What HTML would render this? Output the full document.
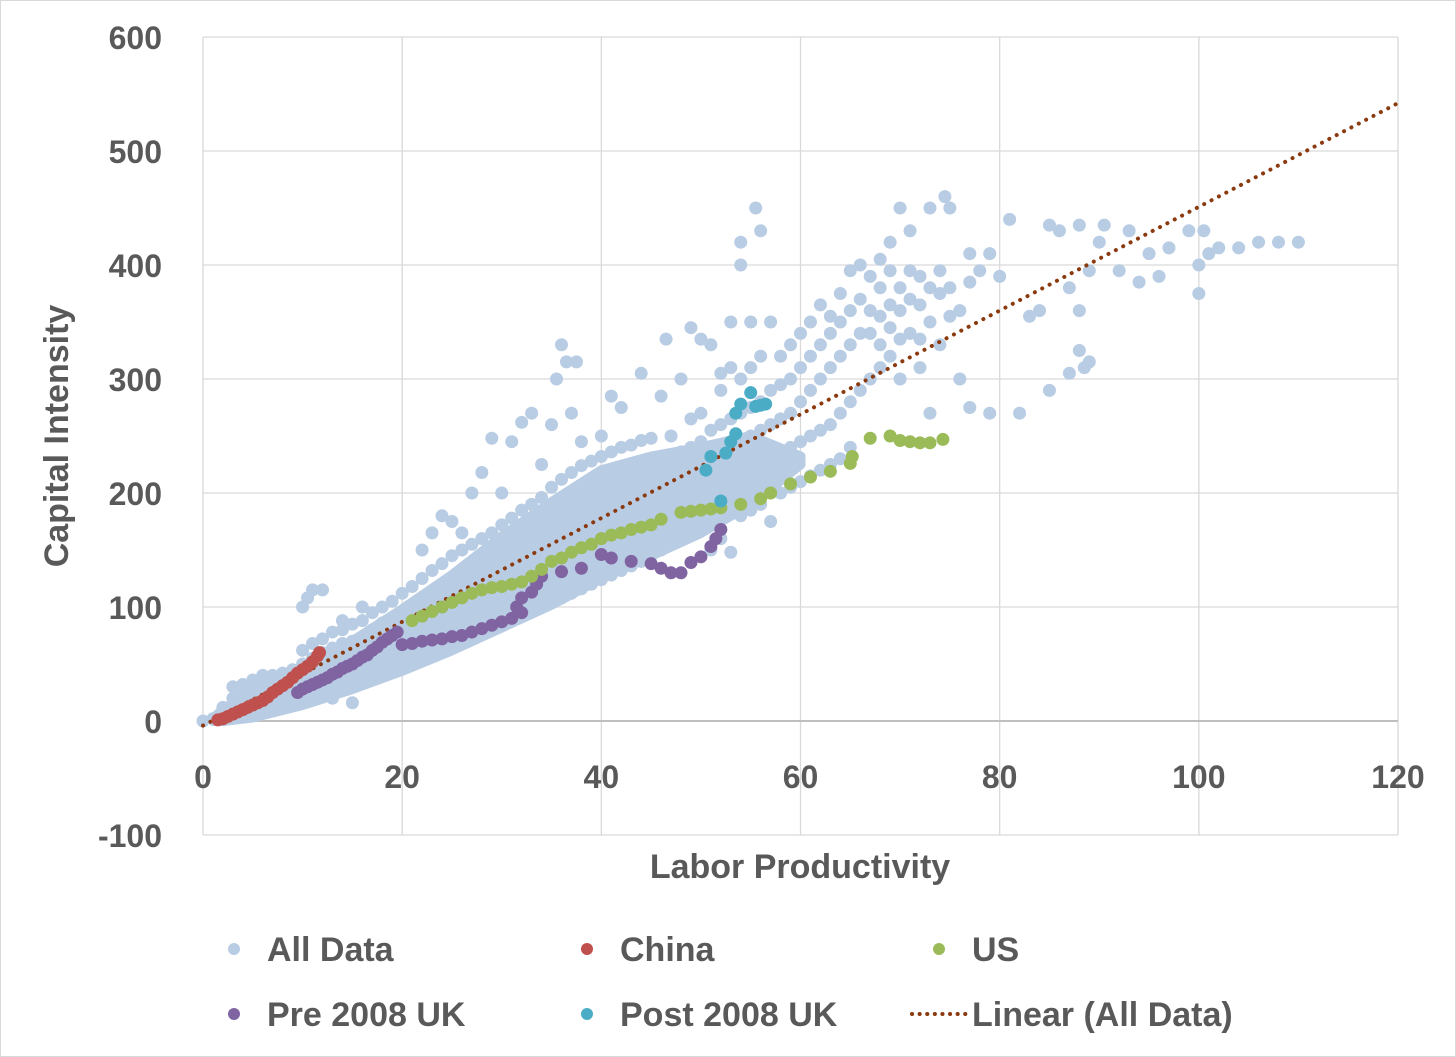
<!DOCTYPE html>
<html><head><meta charset="utf-8">
<style>
body{margin:0;background:#fff;}
svg{display:block;font-family:"Liberation Sans",sans-serif;}
</style></head>
<body>
<svg id="chart" width="1456" height="1057" viewBox="0 0 1456 1057">
<rect x="0.5" y="0.5" width="1455" height="1056" fill="#fff" stroke="#d9d9d9"/>
<g id="grid"></g>
<g id="ticks"></g>
<g id="marks"></g>
<text x="800" y="878" text-anchor="middle" font-size="34" font-weight="bold" fill="#595959">Labor Productivity</text>
<text transform="translate(68,436) rotate(-90)" text-anchor="middle" font-size="34" font-weight="bold" fill="#595959">Capital Intensity</text>
<g font-size="34" font-weight="bold" fill="#595959">
<g><circle cx="234" cy="949" r="6" fill="#b8cce4"/><text x="267" y="961">All Data</text></g>
<g><circle cx="587" cy="949" r="6" fill="#c0504d"/><text x="620" y="961">China</text></g>
<g><circle cx="939" cy="949" r="6" fill="#9bbb59"/><text x="972" y="961">US</text></g>
<g><circle cx="234" cy="1014" r="6" fill="#8064a2"/><text x="267" y="1026">Pre 2008 UK</text></g>
<g><circle cx="587" cy="1014" r="6" fill="#4bacc6"/><text x="620" y="1026">Post 2008 UK</text></g>
<g><line x1="912" y1="1014" x2="966" y2="1014" stroke="#8b3a0f" stroke-width="4" stroke-dasharray="0.1,7.5" stroke-linecap="round"/><text x="972" y="1026">Linear (All Data)</text></g>
</g>
</svg>
<script>
const xTicks=[0,20,40,60,80,100,120];
const yTicks=[-100,0,100,200,300,400,500,600];
const trend=[-4,4.55]; // intercept, slope
const bandX=[1,2,5,10,15,20,25,30,35,40,45,50,55,60];
const bandLow=[0,0,3,14,28,44,62,82,102,125,145,165,190,225];
const bandHigh=[2,10,26,45,70,98,128,162,192,220,232,240,250,232];
const china=[[1.5,1],[2,2],[2.5,4],[3,6],[3.5,8],[4,10],[4.5,12],[5,14],[5.5,16],[6,18],[6.5,21],[7,25],[7.5,28],[8,31],[8.5,34],[9,38],[9.5,42],[10,45],[10.5,48],[11,52],[11.5,57],[11.7,60]];
const preUK=[[9.5,25],[10,28],[10.5,30],[11,32],[11.5,34],[12,36],[12.5,38],[13,41],[13.5,43],[14,46],[14.5,48],[15,50],[15.5,53],[16,56],[16.5,58],[17,62],[17.5,65],[18,69],[18.5,72],[19,75],[19.5,78],[20,67],[21,68],[22,70],[23,71],[24,72],[25,74],[26,75],[27,78],[28,81],[29,84],[30,87],[31,90],[32,95],[31.5,100],[32,108],[33,113],[33.5,120],[34,127],[36,131],[38,134],[40,146],[41,143],[43,140],[45,138],[46,134],[47,130],[48,130],[49,139],[50,144],[51,153],[51.5,160],[52,168]];
const us=[[21,88],[22,92],[23,96],[24,100],[25,104],[26,108],[27,112],[28,115],[29,117],[30,118],[31,120],[32,122],[33,127],[34,133],[35,140],[36,143],[37,148],[38,152],[39,155],[40,160],[41,163],[42,165],[43,168],[44,170],[45,172],[46,177],[48,183],[49,184],[50,185],[51,186],[52,187],[54,190],[56,195],[57,200],[59,208],[61,214],[63,219],[65,226],[65.2,232],[67,248],[69,250],[70,246],[71,245],[72,244],[73,244],[74.3,247]];
const postUK=[[50.5,220],[52,193],[52.5,235],[53,245],[53.5,252],[53.5,270],[54,278],[55,288],[55.5,276],[56,277],[56.5,278],[51,232]];
const allData=[[0,0],[1,2],[2,5],[2,12],[3,4],[3,10],[3,20],[3,30],[4,6],[4,14],[4,25],[4,32],[5,5],[5,12],[5,20],[5,28],[5,36],[6,8],[6,16],[6,24],[6,34],[6,40],[7,10],[7,20],[7,30],[7,40],[8,12],[8,22],[8,32],[8,42],[9,15],[9,25],[9,35],[9,45],[10,18],[10,28],[10,38],[10,50],[10,62],[10,100],[10.5,108],[11,22],[11,35],[11,45],[11,55],[11,68],[11,115],[12,25],[12,38],[12,50],[12,60],[12,72],[12,115],[13,28],[13,40],[13,52],[13,64],[13,78],[13,20],[14,30],[14,44],[14,56],[14,68],[14,80],[14,88],[15,16],[15,34],[15,46],[15,58],[15,70],[15,85],[16,36],[16,48],[16,62],[16,74],[16,88],[16,100],[17,40],[17,52],[17,66],[17,80],[17,95],[18,42],[18,56],[18,70],[18,86],[18,100],[19,45],[19,60],[19,74],[19,90],[19,105],[20,48],[20,62],[20,78],[20,95],[20,112],[21,52],[21,66],[21,82],[21,100],[21,118],[22,55],[22,70],[22,86],[22,105],[22,125],[22,150],[23,58],[23,74],[23,92],[23,110],[23,132],[23,165],[24,60],[24,78],[24,96],[24,115],[24,138],[24,180],[25,64],[25,82],[25,100],[25,120],[25,145],[25,175],[26,68],[26,86],[26,106],[26,126],[26,150],[26,165],[27,72],[27,90],[27,110],[27,132],[27,155],[27,200],[28,76],[28,95],[28,115],[28,138],[28,160],[28,218],[29,80],[29,100],[29,120],[29,142],[29,165],[29,248],[30,84],[30,104],[30,126],[30,148],[30,172],[30,200],[31,88],[31,108],[31,130],[31,154],[31,178],[31,245],[32,92],[32,112],[32,136],[32,160],[32,185],[32,262],[33,96],[33,118],[33,140],[33,166],[33,190],[33,270],[34,100],[34,122],[34,146],[34,172],[34,196],[34,225],[35,104],[35,126],[35,150],[35,178],[35,205],[35,260],[35.5,300],[36,108],[36,130],[36,156],[36,184],[36,212],[36,330],[36.5,315],[37,112],[37,135],[37,160],[37,190],[37,218],[37,270],[37.5,315],[38,116],[38,140],[38,166],[38,195],[38,224],[38,245],[39,120],[39,145],[39,172],[39,200],[39,228],[40,124],[40,150],[40,178],[40,205],[40,232],[40,250],[41,128],[41,155],[41,184],[41,210],[41,236],[41,285],[42,132],[42,160],[42,188],[42,215],[42,240],[42,275],[43,136],[43,165],[43,192],[43,220],[43,242],[44,140],[44,170],[44,196],[44,224],[44,246],[44,305],[45,145],[45,175],[45,200],[45,228],[45,248],[46,150],[46,180],[46,205],[46,230],[46,285],[46.5,335],[47,155],[47,185],[47,208],[47,232],[47,250],[48,160],[48,188],[48,212],[48,236],[48,300],[49,165],[49,192],[49,216],[49,240],[49,265],[49,345],[50,170],[50,195],[50,220],[50,245],[50,270],[50,335],[51,150],[51,200],[51,225],[51,255],[51,330],[52,160],[52,205],[52,230],[52,260],[52,290],[52,305],[53,148],[53,210],[53,240],[53,265],[53,310],[53,350],[54,180],[54,215],[54,245],[54,270],[54,300],[54,420],[54,400],[55,185],[55,220],[55,250],[55,275],[55,310],[55,350],[55.5,450],[56,190],[56,225],[56,255],[56,280],[56,320],[56,430],[57,175],[57,230],[57,260],[57,290],[57,350],[58,200],[58,235],[58,265],[58,295],[58,320],[59,205],[59,240],[59,270],[59,300],[59,330],[60,210],[60,245],[60,280],[60,310],[60,340],[61,215],[61,250],[61,290],[61,320],[61,350],[62,220],[62,255],[62,300],[62,330],[62,365],[63,225],[63,260],[63,310],[63,340],[63,355],[64,230],[64,270],[64,320],[64,350],[64,375],[65,240],[65,280],[65,330],[65,360],[65,395],[66,290],[66,340],[66,370],[66,400],[67,300],[67,340],[67,360],[67,390],[68,310],[68,330],[68,355],[68,380],[68,405],[69,320],[69,345],[69,365],[69,395],[69,420],[70,300],[70,335],[70,360],[70,380],[70,450],[71,340],[71,370],[71,395],[71,430],[72,310],[72,335],[72,365],[72,390],[73,270],[73,350],[73,380],[73,450],[74,330],[74,375],[74,395],[74.5,460],[75,355],[75,380],[75,450],[76,300],[76,360],[77,275],[77,385],[77,410],[78,395],[79,270],[79,410],[80,390],[81,440],[82,270],[83,355],[84,360],[85,290],[85,435],[86,430],[87,380],[87,305],[88,325],[88,360],[88,435],[88.5,310],[89,315],[89,395],[90,420],[90.5,435],[92,395],[93,430],[94,385],[95,410],[96,390],[97,415],[99,430],[100,375],[100,400],[100.5,430],[101,410],[102,415],[104,415],[106,420],[108,420],[110,420]];

const X0=203,X1=1398,Y0=721;
const sx=v=>X0+(v-0)*(X1-X0)/120;
const sy=v=>Y0-v*(721-37)/600;
const NS='http://www.w3.org/2000/svg';
const grid=document.getElementById('grid'),tk=document.getElementById('ticks'),mk=document.getElementById('marks');
function mkEl(tag,attrs,parent){const e=document.createElementNS(NS,tag);for(const k in attrs)e.setAttribute(k,attrs[k]);parent.appendChild(e);return e;}
xTicks.forEach(t=>{
  const l=mkEl('line',{x1:sx(t),x2:sx(t),y1:sy(600),y2:sy(-100),stroke:'#d9d9d9','stroke-width':1.3},grid);
  
  
  const tx=mkEl('text',{x:sx(t),y:788,'text-anchor':'middle','font-size':32,'font-weight':'bold',fill:'#595959'},tk);
  tx.textContent=t;
  
  
});
yTicks.forEach(t=>{
  const l=mkEl('line',{x1:sx(0),x2:sx(120),y1:sy(t),y2:sy(t),stroke:t===0?'#bfbfbf':'#d9d9d9','stroke-width':t===0?2:1.3},grid);
  
  
  const tx=mkEl('text',{x:162,y:sy(t)+12,'text-anchor':'end','font-size':32,'font-weight':'bold',fill:'#595959'},tk);
  tx.textContent=t;
  
  
});
let pts=bandX.map((x,i)=>sx(x)+','+sy(bandHigh[i]));
for(let i=bandX.length-1;i>=0;i--)pts.push(sx(bandX[i])+','+sy(bandLow[i]));
const band=mkEl('polygon',{points:pts.join(' '),fill:'#b8cce4',stroke:'#b8cce4','stroke-width':10,'stroke-linejoin':'round'},mk);


function series(arr,color,name,r){
  const g=mkEl('g',{fill:color},mk);
  
  
  arr.forEach(p=>{
    const c=mkEl('circle',{cx:sx(p[0]),cy:sy(p[1]),r:r},g);
    
    
  });
}
series(allData,'#b8cce4','all-data',6.5);
const tl=mkEl('line',{x1:sx(0),y1:sy(trend[0]),x2:sx(120),y2:sy(trend[0]+trend[1]*120),stroke:'#8b3a0f','stroke-width':4,'stroke-dasharray':'0.1,8.2','stroke-linecap':'round'},mk);


series(china,'#c0504d','china',6.5);
series(preUK,'#8064a2','pre-2008-uk',6.5);
series(us,'#9bbb59','us',6.5);
series(postUK,'#4bacc6','post-2008-uk',6.5);
</script>
</body></html>
